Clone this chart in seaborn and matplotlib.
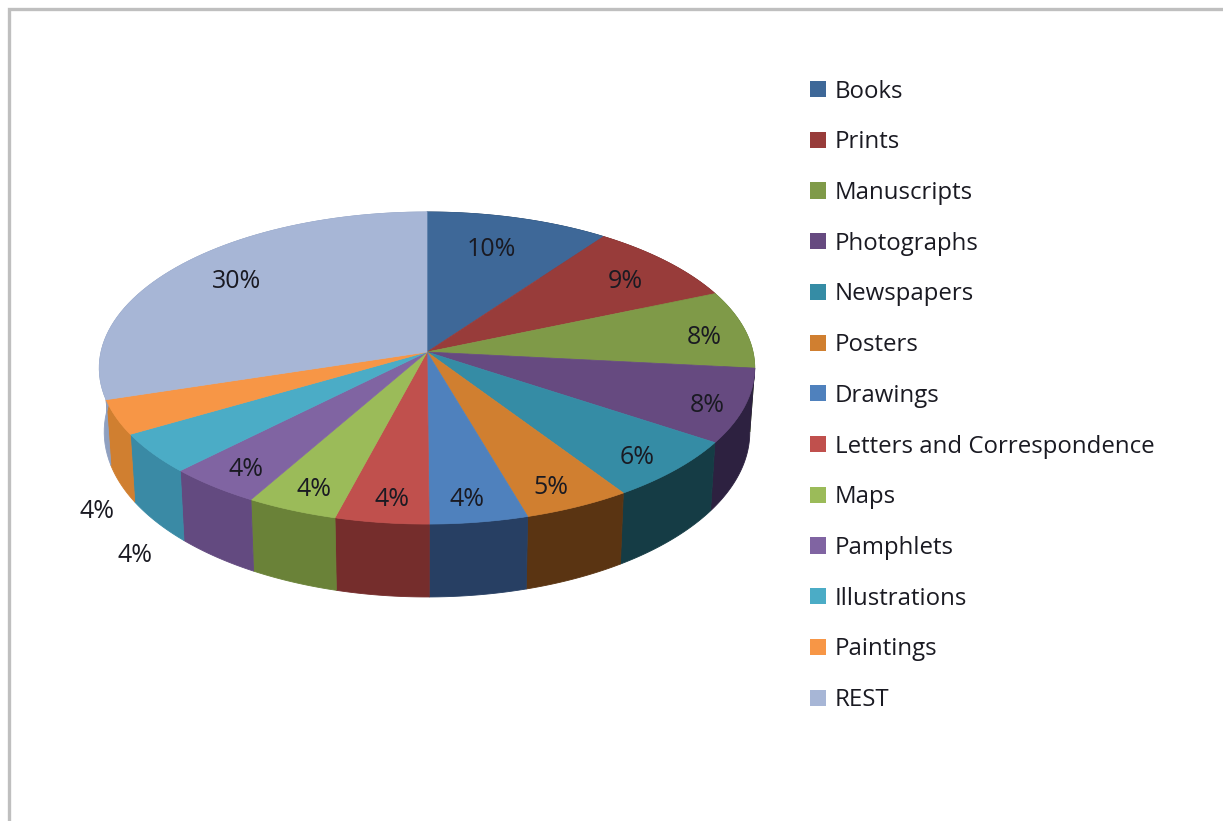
import numpy as np
import matplotlib
matplotlib.use("Agg")
import matplotlib.pyplot as plt
from matplotlib.patches import Patch
import seaborn as sns

# data (slice shares in %, printed rounded)
categories = ["Books", "Prints", "Manuscripts", "Photographs", "Newspapers", "Posters",
              "Drawings", "Letters and Correspondence", "Maps", "Pamphlets",
              "Illustrations", "Paintings", "REST"]
shares = [10.0, 8.6, 8.1, 7.7, 6.4, 4.8, 4.4, 4.2, 4.1, 4.2, 4.2, 3.6, 29.9]

top_colors = ["#3e6898", "#983c3a", "#7f9a48", "#664a80", "#358ca5", "#d07f30", "#4f81bd",
              "#c0504d", "#9bbb59", "#8064a2", "#4bacc6", "#f79646", "#a7b6d6"]
wall_colors = ["#24405f", "#6f2a28", "#5f7b35", "#2d2140", "#153c45", "#5a3412", "#273f63",
               "#752d2c", "#6a8238", "#634a80", "#3a8aa5", "#d07f30", "#8fa0c0"]

# where the percent labels sit, in pixels
label_x = [491, 625, 704, 707, 637, 551, 467, 392, 314, 246, 135, 97, 237]
label_y = [250, 281, 338, 405, 458, 487, 500, 500, 489, 470, 555, 512, 281]

# pie geometry, in pixels
CX, CY = 427, 352
RX, RY = 326, 154.4
PERSP = 0.1026
WALL = 63

sns.set_theme(style="white")
plt.rcParams["font.family"] = ["Open Sans", "DejaVu Sans"]
top_pal = sns.color_palette(top_colors)
wall_pal = sns.color_palette(wall_colors)


def project(theta):
    # theta runs clockwise from 12 o'clock, perspective pulls the back edge in
    u, v = np.sin(theta), np.cos(theta)
    w = 1 + PERSP * v
    return CX + RX * u / w, CY - RY * v / w, w


fig = plt.figure(figsize=(12.23, 8.21), dpi=100)
ax = fig.add_axes([0, 0, 1, 1])
ax.set_xlim(0, 1223)
ax.set_ylim(821, 0)
ax.axis("off")

# grey frame, top and left only
ax.plot([8.5, 8.5, 1223], [821, 9.5, 9.5], color="#bfbfbf", lw=2.4, solid_joinstyle="miter")

edges = np.cumsum([0] + shares) / sum(shares) * 2 * np.pi

# side walls first, the top covers whatever is behind
for i in range(len(shares)):
    th = np.linspace(edges[i], edges[i + 1], 60)
    x, y, w = project(th)
    xb = CX + (x - CX) * 0.985
    yb = y + WALL / w ** 1.35
    ax.fill(np.r_[x, xb[::-1]], np.r_[y, yb[::-1]], color=wall_pal[i], lw=0.6, zorder=2)

# top surface
for i in range(len(shares)):
    th = np.linspace(edges[i], edges[i + 1], 60)
    x, y, _ = project(th)
    ax.fill(np.r_[CX, x], np.r_[CY, y], color=top_pal[i], lw=0.5, zorder=3)

for s, lx, ly in zip(shares, label_x, label_y):
    ax.text(lx, ly, f"{s:.0f}%", ha="center", va="center", fontsize=18,
            color="#1a1a22", zorder=4)

handles = [Patch(facecolor=c, edgecolor="none", label=n) for c, n in zip(top_pal, categories)]
ax.legend(handles=handles, loc="upper left", bbox_to_anchor=(810 / 1223, 1 - 79.5 / 821),
          frameon=False, fontsize=17.3, labelspacing=1.112, handlelength=0.66,
          handleheight=0.66, handletextpad=0.38, borderpad=0, borderaxespad=0,
          labelcolor="#1a1a22")

fig.savefig("out.png", dpi=100)
